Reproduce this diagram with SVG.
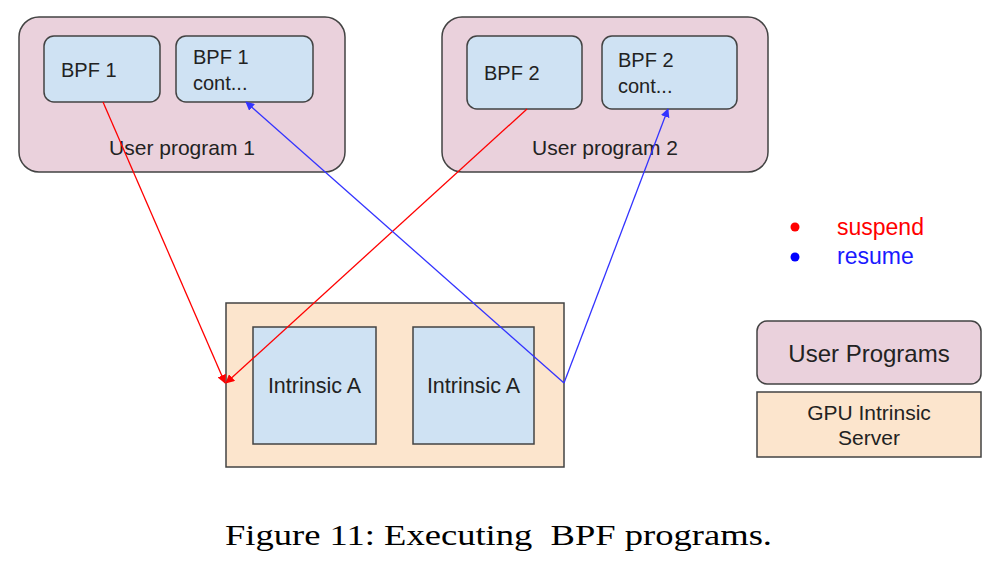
<svg xmlns="http://www.w3.org/2000/svg" width="1002" height="566" viewBox="0 0 1002 566">
<defs>
<style>
.user{fill:#ead1dc;stroke:#434343;stroke-width:1.5}
.bpf{fill:#cfe2f3;stroke:#434343;stroke-width:1.5}
.srv{fill:#fce5cd;stroke:#434343;stroke-width:1.5}
.t{font-family:"Liberation Sans",Arial,sans-serif;fill:#222}
.cap{font-family:"Liberation Serif","Times New Roman",serif;fill:#000;white-space:pre}
.red{stroke:#ff0000;stroke-width:1.3;fill:none}
.blue{stroke:#3333ff;stroke-width:1.3;fill:none}
</style>
<marker id="ar" viewBox="0 0 10 10" refX="9" refY="5" markerWidth="9" markerHeight="9" markerUnits="userSpaceOnUse" orient="auto"><path d="M0,0 L10,5 L0,10 z" fill="#ff0000"/></marker>
<marker id="ab" viewBox="0 0 10 10" refX="9" refY="5" markerWidth="9" markerHeight="9" markerUnits="userSpaceOnUse" orient="auto"><path d="M0,0 L10,5 L0,10 z" fill="#3333ff"/></marker>
</defs>
<rect width="1002" height="566" fill="#ffffff"/>
<g id="user-program-1">
<rect class="user" x="19" y="17" width="326" height="155" rx="20"/>
<text class="t" x="182" y="155" font-size="21" text-anchor="middle">User program 1</text>
</g>
<g id="bpf1">
<rect class="bpf" x="44" y="36" width="116" height="66" rx="10"/>
<text class="t" x="61" y="77" font-size="20">BPF 1</text>
</g>
<g id="bpf1-cont">
<rect class="bpf" x="176" y="36" width="137" height="66" rx="10"/>
<text class="t" x="193" y="64" font-size="20">BPF 1</text>
<text class="t" x="193" y="90" font-size="20">cont...</text>
</g>
<g id="user-program-2">
<rect class="user" x="442" y="17" width="326" height="155" rx="20"/>
<text class="t" x="605" y="155" font-size="21" text-anchor="middle">User program 2</text>
</g>
<g id="bpf2">
<rect class="bpf" x="467" y="36" width="115" height="73" rx="10"/>
<text class="t" x="484" y="80" font-size="20">BPF 2</text>
</g>
<g id="bpf2-cont">
<rect class="bpf" x="602" y="36" width="135" height="73" rx="10"/>
<text class="t" x="618" y="67" font-size="20">BPF 2</text>
<text class="t" x="618" y="93" font-size="20">cont...</text>
</g>
<g id="gpu-server">
<rect class="srv" x="226" y="303" width="338" height="164"/>
</g>
<g id="intrinsic-a-1">
<rect class="bpf" x="253" y="327" width="123" height="117"/>
<text class="t" x="314.5" y="393" font-size="21.5" text-anchor="middle">Intrinsic A</text>
</g>
<g id="intrinsic-a-2">
<rect class="bpf" x="413" y="327" width="121" height="117"/>
<text class="t" x="473.5" y="393" font-size="21.5" text-anchor="middle">Intrinsic A</text>
</g>
<g id="connectors">
<line class="red" x1="103" y1="102" x2="225" y2="383" marker-end="url(#ar)"/>
<line class="red" x1="527" y1="109" x2="226" y2="383" marker-end="url(#ar)"/>
<polyline class="blue" points="564,383 246,102" marker-end="url(#ab)"/>
<polyline class="blue" points="564,383 668,109" marker-end="url(#ab)"/>
</g>
<g id="legend">
<circle cx="795" cy="227" r="4.5" fill="#ff0000"/>
<text x="837" y="235" font-size="23" font-family="Liberation Sans, Arial, sans-serif" fill="#ff0000">suspend</text>
<circle cx="795" cy="257" r="4.5" fill="#0000ff"/>
<text x="837" y="264" font-size="23" font-family="Liberation Sans, Arial, sans-serif" fill="#1a1aff">resume</text>
</g>
<g id="legend-user-programs">
<rect class="user" x="757" y="321" width="224" height="63" rx="10"/>
<text class="t" x="869" y="362" font-size="24" text-anchor="middle">User Programs</text>
</g>
<g id="legend-gpu-server">
<rect class="srv" x="757" y="392" width="224" height="65"/>
<text class="t" x="869" y="420" font-size="21" text-anchor="middle">GPU Intrinsic</text>
<text class="t" x="869" y="445" font-size="21" text-anchor="middle">Server</text>
</g>
<text class="cap" x="225" y="545" font-size="30" textLength="547" lengthAdjust="spacingAndGlyphs">Figure 11: Executing  BPF programs.</text>
</svg>
